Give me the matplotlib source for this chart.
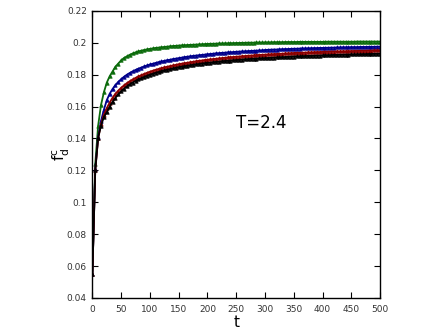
import numpy as np
import matplotlib
matplotlib.use('Agg')
import matplotlib.pyplot as plt
from matplotlib.ticker import FuncFormatter

# time steps (every 5)
t = list(range(0, 501, 5))

f_green = [
    0.055, 0.124, 0.148, 0.161, 0.169, 0.175, 0.179, 0.182, 0.185, 0.187,
    0.189, 0.1905, 0.1915, 0.1925, 0.1933, 0.194, 0.1946, 0.1951, 0.1955, 0.1959,
    0.1962, 0.1965, 0.1968, 0.197, 0.1972, 0.1974, 0.1976, 0.1978, 0.198, 0.1981,
    0.1983, 0.1984, 0.1985, 0.1986, 0.1987, 0.1988, 0.1989, 0.199, 0.1991, 0.1992,
    0.1993, 0.1994, 0.1994, 0.1995, 0.1996, 0.1996, 0.1997, 0.1997, 0.1998, 0.1998,
    0.1999, 0.1999, 0.2, 0.2, 0.2001, 0.2001, 0.2001, 0.2002, 0.2002, 0.2002,
    0.2003, 0.2003, 0.2003, 0.2004, 0.2004, 0.2004, 0.2004, 0.2005, 0.2005, 0.2005,
    0.2005, 0.2005, 0.2006, 0.2006, 0.2006, 0.2006, 0.2006, 0.2006, 0.2006, 0.2006,
    0.2006, 0.2007, 0.2007, 0.2007, 0.2007, 0.2007, 0.2007, 0.2007, 0.2007, 0.2007,
    0.2007, 0.2007, 0.2008, 0.2008, 0.2008, 0.2008, 0.2008, 0.2008, 0.2008, 0.2008,
    0.2008,
]

f_blue = [
    0.055, 0.121, 0.141, 0.151, 0.158, 0.164, 0.168, 0.171, 0.1735, 0.1755,
    0.1772, 0.1787, 0.18, 0.1811, 0.1821, 0.183, 0.1838, 0.1845, 0.1852, 0.1858,
    0.1864, 0.1869, 0.1874, 0.1879, 0.1883, 0.1887, 0.1891, 0.1894, 0.1898, 0.1901,
    0.1904, 0.1907, 0.191, 0.1913, 0.1915, 0.1918, 0.192, 0.1922, 0.1924, 0.1926,
    0.1928, 0.193, 0.1932, 0.1934, 0.1935, 0.1937, 0.1938, 0.194, 0.1941, 0.1942,
    0.1944, 0.1945, 0.1946, 0.1947, 0.1948, 0.1949, 0.195, 0.1951, 0.1952, 0.1953,
    0.1955, 0.1956, 0.1957, 0.1958, 0.1958, 0.1959, 0.196, 0.1961, 0.1961, 0.1962,
    0.1963, 0.1963, 0.1964, 0.1965, 0.1965, 0.1966, 0.1966, 0.1967, 0.1967, 0.1968,
    0.1968, 0.1969, 0.1969, 0.197, 0.197, 0.1971, 0.1971, 0.1972, 0.1972, 0.1972,
    0.1973, 0.1973, 0.1973, 0.1974, 0.1974, 0.1974, 0.1975, 0.1975, 0.1975, 0.1976,
    0.1976,
]

f_red = [
    0.055, 0.12, 0.14, 0.149, 0.155, 0.159, 0.1625, 0.1655, 0.168, 0.17,
    0.1718, 0.1733, 0.1747, 0.1759, 0.177, 0.178, 0.1789, 0.1797, 0.1805, 0.1812,
    0.1819, 0.1825, 0.1831, 0.1836, 0.1841, 0.1846, 0.185, 0.1854, 0.1858, 0.1862,
    0.1866, 0.1869, 0.1872, 0.1875, 0.1878, 0.1881, 0.1884, 0.1887, 0.1889, 0.1892,
    0.1894, 0.1896, 0.1898, 0.19, 0.1902, 0.1904, 0.1906, 0.1908, 0.191, 0.1911,
    0.1913, 0.1914, 0.1916, 0.1917, 0.1919, 0.192, 0.1921, 0.1923, 0.1924, 0.1925,
    0.1926, 0.1927, 0.1928, 0.1929, 0.193, 0.1931, 0.1932, 0.1933, 0.1934, 0.1935,
    0.1936, 0.1937, 0.1937, 0.1938, 0.1939, 0.194, 0.194, 0.1941, 0.1942, 0.1942,
    0.1943, 0.1944, 0.1944, 0.1945, 0.1945, 0.1946, 0.1946, 0.1947, 0.1947, 0.1948,
    0.1948, 0.1949, 0.1949, 0.195, 0.195, 0.195, 0.1951, 0.1951, 0.1952, 0.1952,
    0.1953,
]

f_black = [
    0.055, 0.12, 0.1405, 0.148, 0.1535, 0.1565, 0.16, 0.163, 0.1655, 0.1677,
    0.1696, 0.1712, 0.1727, 0.174, 0.1751, 0.1761, 0.177, 0.1778, 0.1786, 0.1793,
    0.18, 0.1806, 0.1812, 0.1817, 0.1822, 0.1827, 0.1831, 0.1835, 0.1839, 0.1843,
    0.1847, 0.185, 0.1853, 0.1856, 0.1859, 0.1862, 0.1865, 0.1867, 0.187, 0.1872,
    0.1874, 0.1876, 0.1878, 0.188, 0.1882, 0.1884, 0.1886, 0.1887, 0.1889, 0.189,
    0.1892, 0.1893, 0.1895, 0.1896, 0.1897, 0.1899, 0.19, 0.1901, 0.1902, 0.1903,
    0.1904, 0.1905, 0.1906, 0.1907, 0.1908, 0.1909, 0.191, 0.1911, 0.1912, 0.1913,
    0.1914, 0.1915, 0.1915, 0.1916, 0.1917, 0.1918, 0.1918, 0.1919, 0.192, 0.192,
    0.1921, 0.1922, 0.1922, 0.1923, 0.1924, 0.1924, 0.1925, 0.1925, 0.1926, 0.1926,
    0.1927, 0.1927, 0.1928, 0.1928, 0.1929, 0.1929, 0.193, 0.193, 0.1931, 0.1931,
    0.1932,
]

series = [
    (f_green, '#0b6b0b'),
    (f_blue, '#00008b'),
    (f_red, '#8b0000'),
    (f_black, '#000000'),
]

xticks = [0, 50, 100, 150, 200, 250, 300, 350, 400, 450, 500]
yticks = [0.04, 0.06, 0.08, 0.1, 0.12, 0.14, 0.16, 0.18, 0.2, 0.22]

fig = plt.figure(figsize=(4.42, 3.31), dpi=100)
ax = fig.add_axes([0.209, 0.1, 0.651, 0.867])

for vals, col in series:
    ax.plot(t, vals, color=col, lw=1.3, marker='^', ms=2.5, mew=0.5)

ax.set_xlim(0, 500)
ax.set_ylim(0.04, 0.22)
ax.set_xticks(xticks)
ax.set_yticks(yticks)
ax.yaxis.set_major_formatter(FuncFormatter(lambda v, p: '%g' % round(v, 2)))
ax.tick_params(direction='in', top=True, right=True, length=4, width=0.8,
               labelsize=6.5, labelcolor='#333333', pad=4)
ax.tick_params(axis='x', pad=5)
for s in ax.spines.values():
    s.set_linewidth(1.0)

ax.set_xlabel('t', fontsize=11, labelpad=1)
ax.set_ylabel(r'f$^{\rm c}_{\rm d}$', fontsize=11, labelpad=-4)
ax.text(250, 0.150, 'T=2.4', fontsize=12, ha='left', va='center')

fig.savefig('out.png', dpi=100)
